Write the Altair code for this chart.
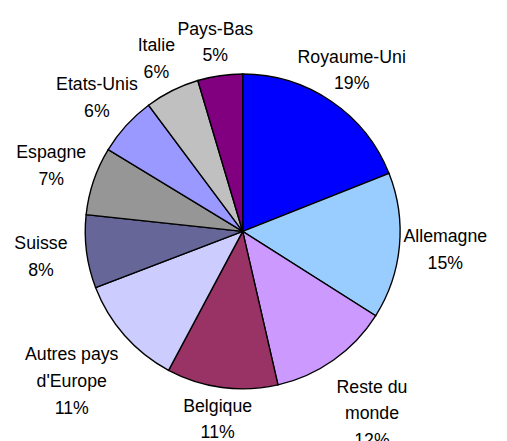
import altair as alt
import numpy as np
import pandas as pd

# Data (share of total, %)
countries = ["Royaume-Uni", "Allemagne", "Reste du\nmonde", "Belgique",
             "Autres pays\nd'Europe", "Suisse", "Espagne", "Etats-Unis",
             "Italie", "Pays-Bas"]
shares = [19.0, 15.0, 12.4, 11.4, 11.4, 7.5, 7.0, 6.1, 5.6, 4.6]
colors = ["#0000FF", "#99CCFF", "#CC99FF", "#993366", "#CCCCFF",
          "#666699", "#969696", "#9999FF", "#C0C0C0", "#800080"]

df = pd.DataFrame({
    "pays": countries,
    "part": shares,
    "ordre": list(range(len(countries))),
})
total = float(df["part"].sum())
df["mid"] = df["part"].cumsum() - df["part"] / 2
df["label"] = df["pays"] + "\n" + df["part"].round().astype(int).astype(str) + "%"
df["nlines"] = df["label"].str.count("\n") + 1

# labels sit on an ellipse around the pie (wider for taller label blocks)
ang = 2 * np.pi * df["mid"] / total
rx = np.where(df["nlines"] > 2, 240.0, 207.0)
ry = np.where(df["nlines"] > 2, 222.0, 193.0)
df["lr"] = 1.0 / np.sqrt((np.sin(ang) / rx) ** 2 + (np.cos(ang) / ry) ** 2)

theta_scale = alt.Scale(domain=[0, total])

pie = alt.Chart(df).mark_arc(outerRadius=160, stroke="black", strokeWidth=1.4).encode(
    theta=alt.Theta("part:Q", stack=True, scale=theta_scale),
    order=alt.Order("ordre:Q", sort="ascending"),
    color=alt.Color("pays:N", scale=alt.Scale(domain=countries, range=colors),
                    legend=None),
)

def label_layer(n, dy):
    return alt.Chart(df).transform_filter(
        alt.datum.nlines == n
    ).mark_text(font="Liberation Sans", fontSize=18, lineHeight=27,
                lineBreak="\n", color="black", align="center",
                baseline="middle", dy=dy).encode(
        theta=alt.Theta("mid:Q", stack=None, scale=theta_scale),
        text="label:N",
        radius=alt.Radius("lr:Q", scale=None),
    )

chart = alt.layer(pie, label_layer(2, -13.5), label_layer(3, -27)).properties(
    width=477, height=415,
    padding={"left": 0, "top": 16, "right": 22, "bottom": 8},
    autosize=alt.AutoSizeParams(type="none"),
).configure_view(stroke=None)

chart.save("out.html", embed_options={"renderer": "svg", "actions": False})
